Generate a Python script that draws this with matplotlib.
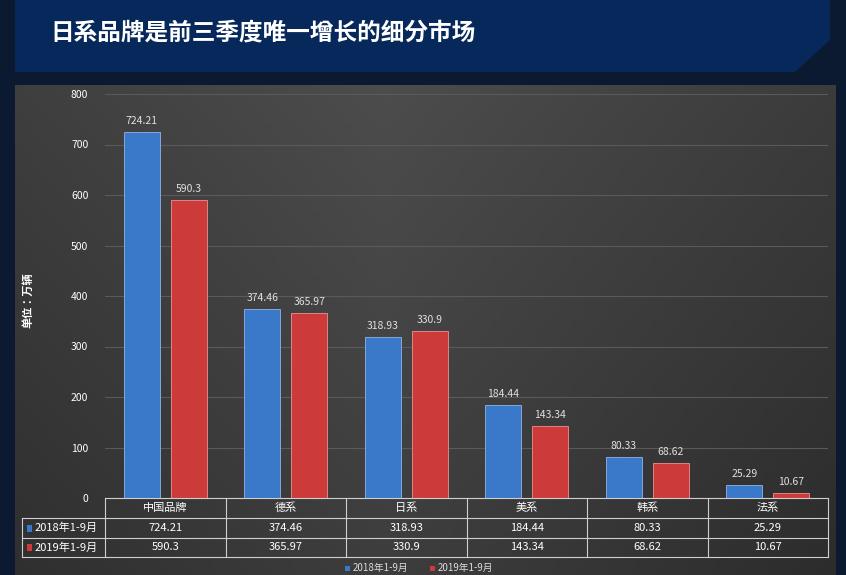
import matplotlib
matplotlib.use("Agg")
import matplotlib.pyplot as plt
from matplotlib.patches import Rectangle, Polygon
from matplotlib import font_manager as fm
import numpy as np

cjk = None
for f in fm.findSystemFonts():
    if "CJK" in f and ("SC" in f or "Sans" in f):
        cjk = f
        if "SC" in f or "ttc" in f:
            break
if cjk:
    fm.fontManager.addfont(cjk)
    fam = fm.FontProperties(fname=cjk).get_name()
else:
    fam = "Noto Sans CJK SC"
plt.rcParams["font.family"] = [fam, "DejaVu Sans"]

title = "日系品牌是前三季度唯一增长的细分市场"
categories = ["中国品牌", "德系", "日系", "美系", "韩系", "法系"]
series_names = ["2018年1-9月", "2019年1-9月"]
v2018 = [724.21, 374.46, 318.93, 184.44, 80.33, 25.29]
v2019 = [590.3, 365.97, 330.9, 143.34, 68.62, 10.67]
yticks = [0, 100, 200, 300, 400, 500, 600, 700, 800]
ylabel = "单位：万辆"

W, H = 846, 575
fig = plt.figure(figsize=(W/100, H/100), dpi=100)
fig.patch.set_facecolor("#0b1a30")

def fx(x): return x / W
def fy(y): return 1 - y / H

fig.patches.append(Polygon([[fx(15), fy(0)], [fx(830), fy(0)], [fx(830), fy(40)], [fx(795), fy(72)], [fx(15), fy(72)]],
                           closed=True, transform=fig.transFigure, facecolor="#06285a", edgecolor="none", zorder=0))
fig.text(fx(50), fy(32), title, color="white", fontsize=17, fontweight="bold", va="center", ha="left")

bg = fig.add_axes([fx(15), 0, fx(835) - fx(15), fy(85)], zorder=0)
grad = np.linspace(0, 1, 256)
xx = np.abs(grad - 0.45)
img = 0.30 - 0.12 * xx[None, :] - 0.06 * np.linspace(0, 1, 100)[:, None]
bg.imshow(np.dstack([img, img, img]), aspect="auto", extent=[0, 1, 0, 1])
bg.axis("off")

L, R, B, T = 105, 828, 498, 94
ax = fig.add_axes([fx(L), fy(B), fx(R) - fx(L), fy(T) - fy(B)], zorder=1)
ax.set_facecolor("none")
x = np.arange(len(categories))
w, off = 0.3, 0.195
b1 = ax.bar(x - off, v2018, w, color="#3a78c9", edgecolor="#8fb4e8", linewidth=0.6)
b2 = ax.bar(x + off, v2019, w, color="#cc3a3a", edgecolor="#ef9090", linewidth=0.6)
for bars, vals in ((b1, v2018), (b2, v2019)):
    for b, v in zip(bars, vals):
        ax.text(b.get_x() + b.get_width()/2, v + 12, f"{v:g}", ha="center", va="bottom", color="#e0e0e0", fontsize=7.5)
ax.set_xlim(-0.5, len(categories) - 0.5)
ax.set_ylim(0, 800)
ax.set_yticks(yticks)
ax.tick_params(axis="y", colors="white", labelsize=7.5, length=0, pad=12)
ax.set_xticks([])
ax.grid(axis="y", color="#5a5a5a", linewidth=0.8)
ax.set_axisbelow(True)
for s in ax.spines.values():
    s.set_visible(False)
fig.text(fx(28), fy(300), ylabel, rotation=90, color="white", fontsize=8, fontweight="bold", va="center", ha="center")

cols = np.linspace(L, R, len(categories) + 1)
rows = [498, 518, 538, 557]
lc = "#cfcfcf"
for yy in rows:
    x0 = L if yy == 498 else 22
    fig.add_artist(plt.Line2D([fx(x0), fx(R)], [fy(yy), fy(yy)], color=lc, lw=0.8))
for cx in cols:
    fig.add_artist(plt.Line2D([fx(cx), fx(cx)], [fy(498), fy(557)], color=lc, lw=0.8))
fig.add_artist(plt.Line2D([fx(22), fx(22)], [fy(518), fy(557)], color=lc, lw=0.8))
for i, c in enumerate(categories):
    cx = (cols[i] + cols[i+1]) / 2
    fig.text(fx(cx), fy(508), c, color="white", fontsize=8, ha="center", va="center")
    fig.text(fx(cx), fy(528), f"{v2018[i]:g}", color="white", fontsize=8, ha="center", va="center")
    fig.text(fx(cx), fy(547.5), f"{v2019[i]:g}", color="white", fontsize=8, ha="center", va="center")
for ry, name, col in ((528, series_names[0], "#3a78c9"), (547.5, series_names[1], "#cc3a3a")):
    fig.patches.append(Rectangle((fx(27), fy(ry + 3.5)), fx(5), 7/H, transform=fig.transFigure, facecolor=col, edgecolor="none"))
    fig.text(fx(35), fy(ry), name, color="white", fontsize=8, ha="left", va="center")

for lx, name, col in ((345, series_names[0], "#3a78c9"), (430, series_names[1], "#cc3a3a")):
    fig.patches.append(Rectangle((fx(lx), fy(571)), fx(5), 5/H, transform=fig.transFigure, facecolor=col, edgecolor="none"))
    fig.text(fx(lx + 8), fy(568), name, color="#dddddd", fontsize=7, ha="left", va="center")

fig.savefig("out.png", dpi=100, facecolor=fig.get_facecolor())
